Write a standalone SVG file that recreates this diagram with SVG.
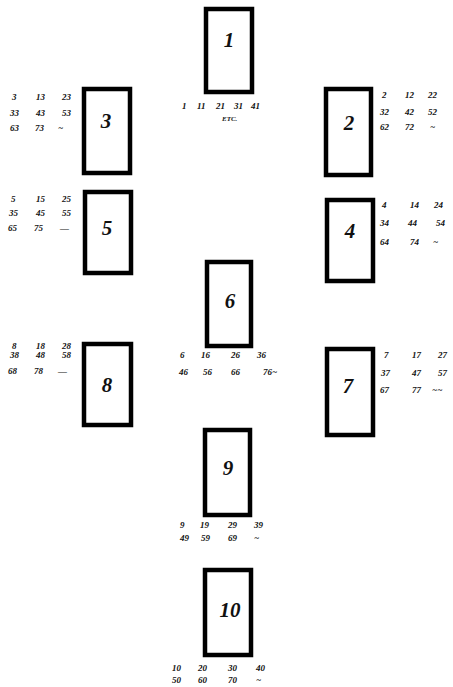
<svg xmlns="http://www.w3.org/2000/svg" width="453" height="687" viewBox="0 0 453 687">
<style>
.card{fill:#fff;stroke:#000;stroke-width:4.5}
.num{font-family:"Liberation Serif",serif;font-style:italic;font-weight:bold;font-size:21px;fill:#111;text-anchor:middle}
.s{font-family:"Liberation Serif",serif;font-style:italic;font-weight:bold;font-size:9px;fill:#111}
</style>
<rect width="453" height="687" fill="#fff"/>
<g id="card1"><rect class="card" x="206" y="9" width="46" height="83"/><text class="num" x="229" y="47">1</text>
<text class="s" y="109"><tspan x="182">1</tspan><tspan x="197">11</tspan><tspan x="216">21</tspan><tspan x="234">31</tspan><tspan x="251">41</tspan></text>
<text class="s" x="222" y="121" style="font-size:7px">ETC.</text></g>
<g id="card3"><rect class="card" x="84" y="89" width="46" height="84"/><text class="num" x="106" y="128">3</text>
<text class="s"><tspan x="12" y="100">3</tspan><tspan x="36" y="100">13</tspan><tspan x="62" y="100">23</tspan><tspan x="10" y="116">33</tspan><tspan x="36" y="116">43</tspan><tspan x="62" y="116">53</tspan><tspan x="10" y="131">63</tspan><tspan x="35" y="131">73</tspan><tspan x="58" y="131">~</tspan></text></g>
<g id="card2"><rect class="card" x="326" y="89" width="45" height="86"/><text class="num" x="349" y="130">2</text>
<text class="s"><tspan x="382" y="98">2</tspan><tspan x="405" y="98">12</tspan><tspan x="428" y="98">22</tspan><tspan x="380" y="115">32</tspan><tspan x="405" y="115">42</tspan><tspan x="428" y="115">52</tspan><tspan x="380" y="130">62</tspan><tspan x="405" y="130">72</tspan><tspan x="430" y="130">~</tspan></text></g>
<g id="card5"><rect class="card" x="85" y="192" width="46" height="81"/><text class="num" x="107" y="235">5</text>
<text class="s"><tspan x="11" y="202">5</tspan><tspan x="36" y="202">15</tspan><tspan x="62" y="202">25</tspan><tspan x="9" y="216">35</tspan><tspan x="36" y="216">45</tspan><tspan x="62" y="216">55</tspan><tspan x="8" y="231">65</tspan><tspan x="34" y="231">75</tspan><tspan x="60" y="231">—</tspan></text></g>
<g id="card4"><rect class="card" x="327" y="200" width="46" height="81"/><text class="num" x="350" y="238">4</text>
<text class="s"><tspan x="382" y="208">4</tspan><tspan x="410" y="208">14</tspan><tspan x="434" y="208">24</tspan><tspan x="380" y="226">34</tspan><tspan x="408" y="226">44</tspan><tspan x="436" y="226">54</tspan><tspan x="380" y="245">64</tspan><tspan x="410" y="245">74</tspan><tspan x="433" y="245">~</tspan></text></g>
<g id="card6"><rect class="card" x="207" y="262" width="44" height="84"/><text class="num" x="230" y="308">6</text>
<text class="s"><tspan x="180" y="358">6</tspan><tspan x="201" y="358">16</tspan><tspan x="231" y="358">26</tspan><tspan x="257" y="358">36</tspan><tspan x="179" y="375">46</tspan><tspan x="203" y="375">56</tspan><tspan x="231" y="375">66</tspan><tspan x="263" y="375">76~</tspan></text></g>
<g id="card8"><rect class="card" x="84" y="344" width="47" height="81"/><text class="num" x="107" y="392">8</text>
<text class="s"><tspan x="12" y="349">8</tspan><tspan x="36" y="349">18</tspan><tspan x="62" y="349">28</tspan><tspan x="10" y="358">38</tspan><tspan x="36" y="358">48</tspan><tspan x="62" y="358">58</tspan><tspan x="8" y="374">68</tspan><tspan x="34" y="374">78</tspan><tspan x="58" y="374">—</tspan></text></g>
<g id="card7"><rect class="card" x="327" y="349" width="46" height="86"/><text class="num" x="348" y="393">7</text>
<text class="s"><tspan x="384" y="358">7</tspan><tspan x="412" y="358">17</tspan><tspan x="438" y="358">27</tspan><tspan x="381" y="376">37</tspan><tspan x="412" y="376">47</tspan><tspan x="438" y="376">57</tspan><tspan x="380" y="393">67</tspan><tspan x="412" y="393">77</tspan><tspan x="432" y="393">~~</tspan></text></g>
<g id="card9"><rect class="card" x="205" y="430" width="45" height="85"/><text class="num" x="228" y="475">9</text>
<text class="s"><tspan x="180" y="528">9</tspan><tspan x="200" y="528">19</tspan><tspan x="228" y="528">29</tspan><tspan x="254" y="528">39</tspan><tspan x="180" y="541">49</tspan><tspan x="201" y="541">59</tspan><tspan x="228" y="541">69</tspan><tspan x="254" y="541">~</tspan></text></g>
<g id="card10"><rect class="card" x="205" y="570" width="46" height="85"/><text class="num" x="230" y="617">10</text>
<text class="s"><tspan x="172" y="671">10</tspan><tspan x="198" y="671">20</tspan><tspan x="228" y="671">30</tspan><tspan x="256" y="671">40</tspan><tspan x="172" y="683">50</tspan><tspan x="198" y="683">60</tspan><tspan x="228" y="683">70</tspan><tspan x="256" y="683">~</tspan></text></g>
<g id="connectors"></g>
</svg>
